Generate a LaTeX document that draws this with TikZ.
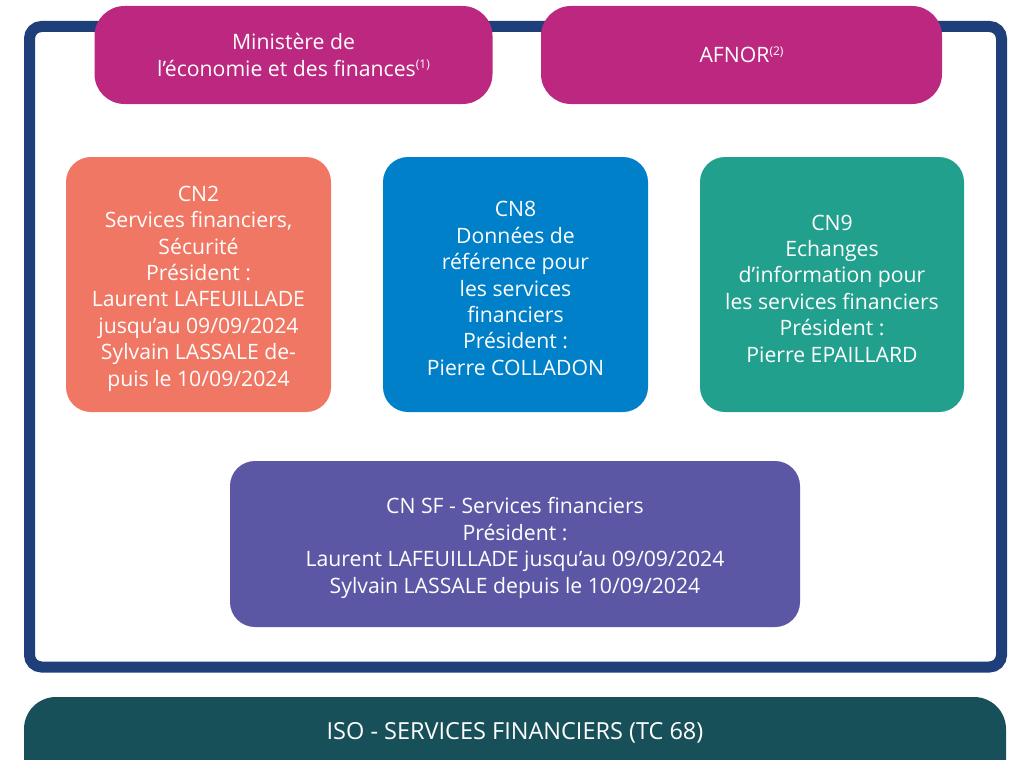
\documentclass[tikz,border=0pt]{standalone}
\usepackage{fontspec}
\setmainfont{Open Sans}
\definecolor{framec}{HTML}{1F3F7A}
\definecolor{magc}{HTML}{BC2880}
\definecolor{cntwo}{HTML}{F07763}
\definecolor{cneight}{HTML}{0080C8}
\definecolor{cnnine}{HTML}{22A08E}
\definecolor{cnsf}{HTML}{5B57A5}
\definecolor{isoc}{HTML}{18505A}
\newcommand{\supnote}[1]{\raisebox{7.5pt}{\fontsize{12}{12}\selectfont(#1)}}
\tikzset{
  boxbase/.style={rectangle, draw=none, inner sep=0pt, align=center, text=white,
    font=\fontsize{21.2}{26.4}\selectfont},
  txt/.style={boxbase, yshift=-4pt},
  magbox/.style={boxbase, fill=magc, minimum height=98pt, rounded corners=30pt,
    font=\fontsize{21.2}{26.2}\selectfont},
  cnbox/.style={boxbase, minimum height=255pt, rounded corners=25pt},
}
\begin{document}
\begin{tikzpicture}[x=1pt,y=-1pt]
\useasboundingbox (0,0) rectangle (1012,760);
\clip (0,0) rectangle (1012,760);
\fill[white] (0,0) rectangle (1012,760);
% outer frame
\draw[framec, line width=11pt, rounded corners=12pt] (29.5,26.5) rectangle (1001.5,667);
% top boxes
\node[magbox, minimum width=398pt] (min) at (293.5,55) {Ministère de\\l’économie et des finances\supnote{1}};
\node[magbox, minimum width=401pt] (afnor) at (741.5,55) {AFNOR\supnote{2}};
% CN boxes
\node[cnbox, fill=cntwo, minimum width=265pt] (cn2) at (198.5,284.5) {};
\node[txt] (cn2t) at (cn2.center) {CN2\\Services financiers,\\Sécurité\\Président :\\Laurent LAFEUILLADE\\jusqu’au 09/09/2024\\Sylvain LASSALE de-\\puis le 10/09/2024};
\node[cnbox, fill=cneight, minimum width=265pt] (cn8) at (515.5,284.5) {};
\node[txt] (cn8t) at (cn8.center) {CN8\\Données de\\référence pour\\les services\\financiers\\Président :\\Pierre COLLADON};
\node[cnbox, fill=cnnine, minimum width=264pt] (cn9) at (832,284.5) {};
\node[txt] (cn9t) at (cn9.center) {CN9\\Echanges\\d’information pour\\les services financiers\\Président :\\Pierre EPAILLARD};
\node[boxbase, fill=cnsf, minimum width=570pt, minimum height=166pt, rounded corners=25pt] (cnsf) at (515,544) {};
\node[txt] (cnsft) at (cnsf.center) {CN SF - Services financiers\\Président :\\Laurent LAFEUILLADE jusqu’au 09/09/2024\\Sylvain LASSALE depuis le 10/09/2024};
% ISO bar
\node[boxbase, fill=isoc, minimum width=982pt, minimum height=110pt, rounded corners=32pt] (iso) at (515,752) {};
\node[boxbase, font=\fontsize{23.5}{28}\selectfont] (isotext) at (515,733) {ISO - SERVICES FINANCIERS (TC 68)};
\end{tikzpicture}
\end{document}
